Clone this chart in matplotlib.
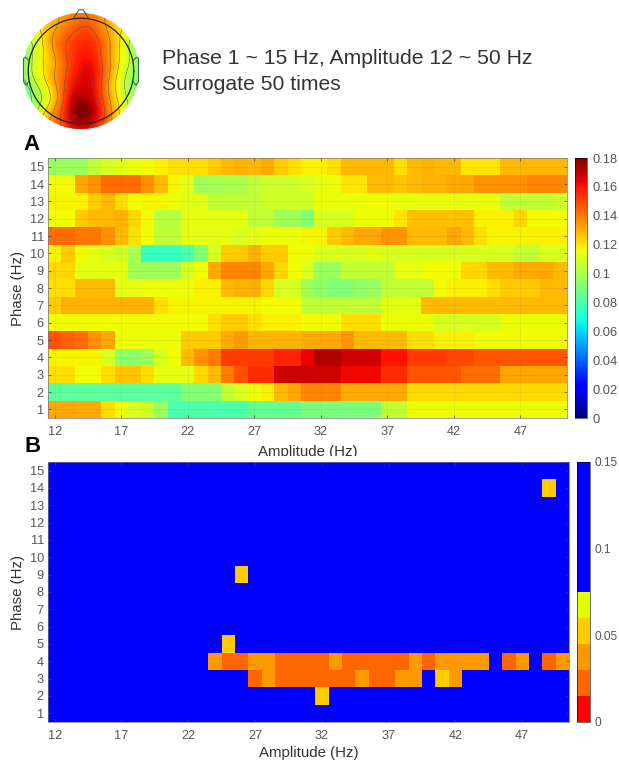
import matplotlib
matplotlib.use('Agg')
import matplotlib.pyplot as plt
import matplotlib.tri as mtri
from matplotlib.colors import ListedColormap, BoundaryNorm
from matplotlib.patches import Circle
from matplotlib.transforms import Bbox
import numpy as np

plt.rcParams['font.family'] = ['Liberation Sans', 'DejaVu Sans']

W, H = 619, 760

amplitude = list(range(12, 51))
phase = list(range(1, 16))
amp_ticks = [12, 17, 22, 27, 32, 37, 42, 47]

# Panel A, modulation index, one list per phase, amplitude 12 to 50
row15 = [.097, .097, .097, .105, .110, .112, .115, .116, .118, .121, .121, .121, .125, .128, .130, .128, .131, .125, .121, .118, .118, .121, .128, .128, .128, .128, .121, .128, .130, .128, .128, .120, .120, .120, .128, .128, .128, .128, .128]
row14 = [.116, .116, .132, .136, .143, .143, .143, .136, .128, .117, .113, .098, .099, .100, .100, .105, .108, .108, .108, .110, .113, .115, .120, .120, .128, .128, .126, .128, .130, .130, .131, .132, .136, .136, .136, .136, .138, .138, .138]
row13 = [.117, .117, .118, .125, .128, .121, .116, .117, .117, .115, .112, .112, .105, .105, .105, .105, .108, .108, .108, .108, .114, .114, .114, .114, .116, .116, .114, .114, .114, .114, .114, .114, .114, .114, .105, .105, .105, .105, .107]
row12 = [.116, .116, .125, .128, .128, .130, .123, .116, .103, .103, .113, .113, .113, .113, .113, .105, .105, .098, .098, .092, .110, .110, .110, .115, .115, .115, .120, .127, .127, .127, .127, .127, .118, .118, .118, .123, .116, .116, .116]
row11 = [.143, .143, .141, .141, .136, .128, .121, .116, .105, .105, .113, .113, .113, .113, .110, .112, .115, .115, .115, .117, .117, .125, .128, .132, .132, .135, .135, .128, .128, .128, .132, .128, .121, .117, .117, .117, .118, .118, .118]
row10 = [.118, .125, .116, .113, .110, .108, .100, .075, .075, .075, .080, .092, .110, .125, .125, .130, .125, .125, .116, .115, .110, .110, .110, .110, .113, .110, .110, .110, .110, .110, .110, .110, .110, .110, .110, .105, .105, .110, .110]
row9 = [.123, .123, .113, .113, .113, .113, .098, .098, .098, .098, .110, .116, .131, .138, .138, .138, .132, .123, .116, .110, .097, .097, .105, .105, .105, .105, .113, .113, .116, .116, .116, .123, .123, .128, .128, .131, .131, .131, .128]
row8 = [.121, .121, .128, .128, .128, .113, .113, .115, .115, .115, .115, .118, .118, .128, .130, .130, .123, .110, .110, .098, .094, .092, .092, .094, .097, .105, .105, .105, .105, .116, .118, .118, .118, .121, .125, .125, .125, .128, .128]
row7 = [.125, .130, .130, .130, .130, .130, .130, .130, .121, .117, .117, .117, .117, .117, .117, .117, .116, .116, .116, .105, .105, .105, .105, .105, .105, .113, .113, .113, .128, .128, .128, .128, .128, .128, .128, .128, .128, .128, .128]
row6 = [.116, .116, .116, .116, .116, .116, .116, .116, .116, .116, .116, .116, .121, .125, .125, .121, .118, .118, .118, .116, .116, .116, .121, .121, .121, .115, .115, .115, .115, .110, .110, .110, .110, .110, .115, .115, .115, .115, .115]
row5 = [.148, .145, .143, .136, .132, .115, .115, .115, .115, .115, .125, .125, .125, .131, .134, .129, .129, .129, .129, .131, .131, .132, .135, .128, .128, .128, .128, .121, .121, .118, .118, .118, .116, .116, .116, .116, .116, .116, .116]
row4 = [.117, .117, .117, .117, .110, .094, .094, .097, .110, .116, .128, .135, .140, .152, .152, .152, .152, .157, .157, .163, .172, .172, .167, .167, .167, .160, .160, .152, .152, .152, .150, .150, .147, .147, .147, .147, .147, .147, .147]
row3 = [.121, .121, .116, .116, .121, .126, .126, .121, .113, .113, .113, .122, .128, .140, .148, .155, .155, .168, .168, .168, .167, .167, .162, .162, .162, .155, .155, .147, .147, .147, .147, .143, .143, .143, .132, .132, .132, .132, .132]
row2 = [.083, .083, .083, .083, .083, .083, .083, .083, .083, .083, .092, .092, .092, .105, .110, .115, .118, .128, .132, .138, .138, .138, .131, .131, .131, .131, .131, .122, .122, .122, .122, .122, .122, .122, .122, .122, .122, .122, .122]
row1 = [.132, .132, .131, .131, .121, .115, .110, .108, .097, .080, .080, .080, .080, .080, .080, .085, .085, .085, .085, .090, .090, .090, .090, .090, .090, .105, .105, .115, .115, .115, .115, .115, .115, .115, .115, .115, .115, .115, .115]

# Panel B, cells below the blue range, everything else reads as 0.15
p14_amp, p14_val = [49], [.052]
p9_amp, p9_val = [26], [.052]
p5_amp, p5_val = [25], [.052]
p4_amp = [24, 25, 26, 27, 28, 29, 30, 31, 32, 33, 34, 35, 36, 37, 38, 39, 40, 41, 42, 43, 44, 46, 47, 49, 50]
p4_val = [.038, .022, .022, .038, .038, .022, .022, .022, .022, .038, .022, .022, .022, .022, .022, .038, .022,
          .038, .038, .038, .038, .022, .038, .022, .038]
p3_amp = [27, 28, 29, 30, 31, 32, 33, 34, 35, 36, 37, 38, 39, 41, 42]
p3_val = [.022, .038, .022, .022, .022, .022, .022, .022, .038, .022, .022, .038, .038, .052, .038]
p2_amp, p2_val = [32], [.052]

# Topography values on a coarse scalp grid, top row is the front of the head
topo_row1 = [.60, .65, .72, .76, .78, .76, .72, .65, .55]
topo_row2 = [.60, .65, .72, .78, .82, .80, .72, .65, .55]
topo_row3 = [.55, .62, .74, .82, .86, .84, .74, .62, .50]
topo_row4 = [.50, .62, .72, .82, .88, .86, .74, .62, .50]
topo_row5 = [.52, .62, .72, .82, .90, .88, .74, .60, .50]
topo_row6 = [.46, .58, .70, .84, .92, .88, .72, .58, .50]
topo_row7 = [.42, .55, .68, .86, .97, .90, .74, .60, .50]
topo_row8 = [.42, .60, .74, .88, 1.0, .92, .76, .62, .55]
topo_row9 = [.50, .65, .75, .85, .90, .85, .75, .65, .60]


def px_axes(fig, left, top, right, bottom):
    return fig.add_axes([left / W, 1 - bottom / H, (right - left) / W, (bottom - top) / H])


def style_map(ax):
    ax.set_xticks(amp_ticks)
    ax.set_yticks(phase)
    ax.tick_params(direction='in', length=2.5, width=0.5, top=True, right=True,
                   labelsize=9.2, labelcolor='#555555', color='#444444', pad=3)
    ax.tick_params(axis='x', pad=6)
    for s in ax.spines.values():
        s.set_linewidth(0.5)
        s.set_color('#777777')


fig = plt.figure(figsize=(W / 100, H / 100), dpi=100, facecolor='w')

# Topography
ax = px_axes(fig, 14, 4, 148, 138)
gx, gy = np.meshgrid(np.linspace(-1.1, 1.1, 9), np.linspace(1.1, -1.1, 9))
z = np.array([topo_row1, topo_row2, topo_row3, topo_row4, topo_row5,
              topo_row6, topo_row7, topo_row8, topo_row9])
tri = mtri.Triangulation(gx.ravel(), gy.ravel())
tri_fine, z_fine = mtri.UniformTriRefiner(tri).refine_field(z.ravel(), subdiv=3)
disc = Circle((0, 0), 1.1, transform=ax.transData)
filled = ax.tricontourf(tri_fine, z_fine, levels=60, cmap='jet', vmin=0, vmax=1)
filled.set_clip_path(disc)
lines = ax.tricontour(tri_fine, z_fine, levels=[.5, .58, .66, .74, .82, .9],
                      colors='#555555', linewidths=0.35)
lines.set_clip_path(disc)
theta = np.linspace(0, 2 * np.pi, 200)
ax.plot(np.cos(theta), np.sin(theta), color='#222222', lw=0.9)
ax.plot([-.15, -.04, .04, .15], [.99, 1.16, 1.16, .99], color='#444444', lw=0.7)
ax.plot([-.99, -1.05, -1.09, -1.09, -1.04, -.99], [.2, .26, .24, -.2, -.27, -.2],
        color='#3a6a55', lw=0.8)
ax.plot([.99, 1.05, 1.09, 1.09, 1.04, .99], [.2, .26, .24, -.2, -.27, -.2],
        color='#3a6a55', lw=0.8)
ax.set_xlim(-1.27, 1.27)
ax.set_ylim(-1.27, 1.27)
ax.axis('off')

fig.text(162 / W, 1 - 58 / H, 'Phase 1 ~ 15 Hz, Amplitude 12 ~ 50 Hz', fontsize=15.2,
         color='#333333', va='center')
fig.text(162 / W, 1 - 84 / H, 'Surrogate 50 times', fontsize=15.2, color='#333333', va='center')
fig.text(23 / W, 1 - 145 / H, 'A', fontsize=16, fontweight='bold', va='center')
fig.text(24 / W, 1 - 446 / H, 'B', fontsize=16, fontweight='bold', va='center')

# Panel A
mi = np.array([row1, row2, row3, row4, row5, row6, row7, row8, row9, row10,
               row11, row12, row13, row14, row15])
ax = px_axes(fig, 48, 158, 567, 418)
im = ax.imshow(mi, origin='lower', aspect='auto', cmap='jet', vmin=0, vmax=0.18,
               extent=[11.5, 50.5, 0.5, 15.5], interpolation='nearest')
style_map(ax)
ax.grid(color='#555555', lw=0.4, alpha=0.15)
ax.set_ylabel('Phase (Hz)', fontsize=10.8, color='#333333', labelpad=3)
xlab = ax.set_xlabel('Amplitude (Hz)', fontsize=10.8, color='#333333', labelpad=5)
xlab.set_clip_box(Bbox([[0, H - 456], [W, H]]))
xlab.set_clip_on(True)
cax = px_axes(fig, 575, 158, 587, 418)
cb = fig.colorbar(im, cax=cax, ticks=[0, .02, .04, .06, .08, .1, .12, .14, .16, .18])
cb.ax.set_yticklabels(['0', '0.02', '0.04', '0.06', '0.08', '0.1', '0.12', '0.14', '0.16', '0.18'])
cb.ax.tick_params(length=0, labelsize=9.3, labelcolor='#555555', pad=4)
cb.outline.set_linewidth(0.4)

# Panel B
pvals = np.full((len(phase), len(amplitude)), 0.15)
for p, amps, vals in [(14, p14_amp, p14_val), (9, p9_amp, p9_val), (5, p5_amp, p5_val),
                      (4, p4_amp, p4_val), (3, p3_amp, p3_val), (2, p2_amp, p2_val)]:
    for a, v in zip(amps, vals):
        pvals[p - 1, a - 12] = v
p_colors = ['#ff0000', '#ff6600', '#ff9900', '#ffcc00', '#ddff00'] + ['#0000ff'] * 5
p_cmap = ListedColormap(p_colors)
p_norm = BoundaryNorm(np.linspace(0, 0.15, 11), p_cmap.N)
ax = px_axes(fig, 48, 462, 569, 722)
im = ax.imshow(pvals, origin='lower', aspect='auto', cmap=p_cmap, norm=p_norm,
               extent=[11.5, 50.5, 0.5, 15.5], interpolation='nearest')
style_map(ax)
ax.set_ylabel('Phase (Hz)', fontsize=10.8, color='#333333', labelpad=3)
ax.set_xlabel('Amplitude (Hz)', fontsize=10.8, color='#333333', labelpad=3)
cax = px_axes(fig, 577, 462, 590, 722)
cb = fig.colorbar(im, cax=cax, ticks=[0, .05, .1, .15], spacing='proportional')
cb.ax.set_yticklabels(['0', '0.05', '0.1', '0.15'])
cb.minorticks_off()
cb.ax.tick_params(length=0, labelsize=8.6, labelcolor='#555555', pad=3)
cb.outline.set_linewidth(0.4)

plt.savefig('out.png', dpi=100)
plt.close()
